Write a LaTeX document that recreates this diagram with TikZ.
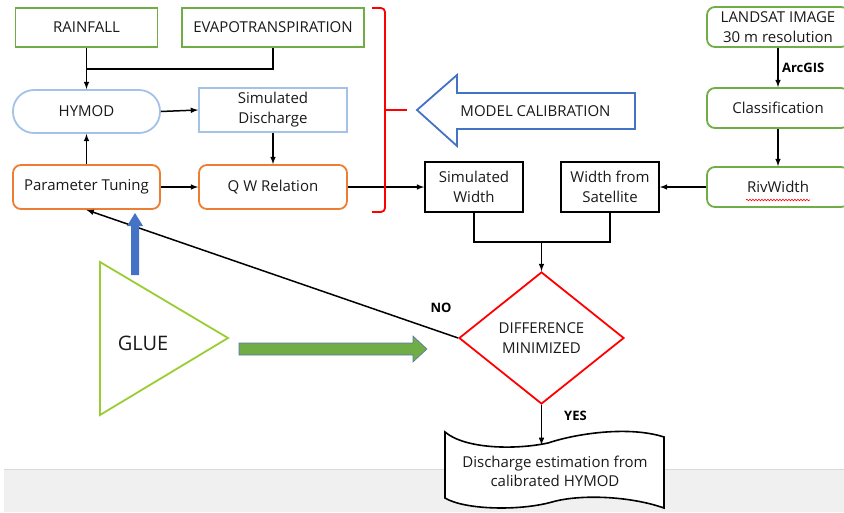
\documentclass[tikz,border=0pt]{standalone}
\usepackage{fontspec}
\setmainfont{Open Sans}
\usetikzlibrary{shapes.geometric,decorations.pathmorphing}
\definecolor{grn}{HTML}{70AD47}
\definecolor{ltblue}{HTML}{A4C2E8}
\definecolor{orng}{HTML}{ED7D31}
\definecolor{blu}{HTML}{4472C4}
\definecolor{lime}{HTML}{9ACD32}
\definecolor{txt}{HTML}{1A1A1A}
\definecolor{band}{HTML}{F0F0F0}
\tikzset{box/.style = {draw, fill=white, line width=1.8pt, rectangle, text=txt, align=center, inner sep=2pt, font=\fontsize{15}{20}\selectfont},
         greenbox/.style = {box, draw=grn, minimum height=39pt},
         sidebox/.style = {box, draw=grn, rounded corners=8pt, minimum width=142pt, minimum height=40pt},
         bluebox/.style = {box, draw=ltblue, minimum width=148pt, minimum height=44pt},
         tunebox/.style = {box, draw=orng, rounded corners=8pt, minimum height=44pt},
         widthbox/.style = {box, draw=black, minimum width=98pt, minimum height=50pt},
         decision/.style = {box, draw=red, diamond, aspect=1.25, minimum width=165pt, minimum height=132pt, inner sep=0pt},
         word/.style = {text=txt, align=center, font=\fontsize{15}{19.5}\selectfont},
         tag/.style = {text=black, font=\fontsize{13}{15}\selectfont\bfseries},
         link/.style = {line width=1.5pt, ->}}

\begin{document}
\begin{tikzpicture}[x=1pt,y=-1pt,>=latex]
    \clip(0,0)rectangle(844,512);
    \fill[band](4,469)rectangle(844,512);
    \draw[black!15,line width=1pt](4,469)--(844,469);

    \node[greenbox,minimum width=142pt](rain)at(86.5,27.5){RAINFALL};
    \node[greenbox,minimum width=182pt](evap)at(273,27.5){EVAPOTRANSPIRATION};
    \node[box,draw=ltblue,rounded corners=21pt,minimum width=147pt,minimum height=43pt](hymod)at(86.5,111.5){HYMOD};
    \node[bluebox](simq)at(273,110){Simulated\\Discharge};
    \node[tunebox,minimum width=147pt](param)at(86.5,187){Parameter Tuning};
    \node[tunebox,minimum width=148pt](qw)at(273,187){Q W Relation};
    \node[widthbox](simw)at(474,187){Simulated\\Width};
    \node[widthbox](satw)at(610,187){Width from\\Satellite};
    \node[sidebox](landsat)at(778,27){LANDSAT IMAGE\\30 m resolution};
    \node[sidebox](class)at(778,108){Classification};
    \node[sidebox](riv)at(778,187){RivWidth};
    \draw[red,line width=0.6pt,decorate,decoration={snake,amplitude=0.8pt,segment length=3pt}]([xshift=-32pt,yshift=-13pt]riv.center)--([xshift=32pt,yshift=-13pt]riv.center);
    \node[decision](diff)at(541.5,338){DIFFERENCE\\MINIMIZED};

    % inputs to HYMOD
    \coordinate(j1)at(86.5,69);
    \draw[line width=1.5pt](evap.south)|-(j1);
    \draw[link](rain.south)--(hymod.north);
    \draw[link](hymod.east)--(simq.west);
    \draw[link](simq.south)--(qw.north);
    \draw[link](param.north)--(hymod.south);
    \draw[link](param.east)--(qw.west);
    \draw[link](qw.east)--(simw.west);

    % satellite side
    \draw[link](landsat.south)--(class.north)node[midway,right,tag]{ArcGIS};
    \draw[link](class.south)--(riv.north);
    \draw[link](riv.west)--(satw.east);

    % comparison
    \coordinate(j2)at(541.5,242);
    \draw[line width=1.5pt](simw.south)|-(j2);
    \draw[line width=1.5pt](satw.south)|-(j2);
    \draw[link](j2)--(diff.north);
    \draw[link](diff.west)--(param.south);
    \node[tag](no)at(441,308){NO};
    \node[tag](yes)at(575.5,416){YES};

    % result
    \filldraw[fill=white,line width=1.6pt](445,432)..controls(465,449)and(515,450)..(548,443)
        ..controls(578,433)and(630,426)..(664,437)--(664,508)
        ..controls(630,496)and(580,494)..(552,502)..controls(520,511)and(465,510)..(445,498)--cycle;
    \node[word](doc)at(555,471.5){Discharge estimation from\\calibrated HYMOD};
    \coordinate(doctop)at(541.5,445);
    \draw[link](diff.south)--(doctop);

    % model calibration
    \draw[red,line width=1.8pt,rounded corners=4pt](372,8)-|(385,110)|-(372,212);
    \draw[red,line width=1.8pt](385,110)--(407,110);
    \draw[blu,line width=1.8pt,fill=white](417,110)--(457,75)--(457,93)--(635,93)--(635,129)--(457,129)--(457,146)--cycle;
    \node[word](calib)at(535.5,111){MODEL CALIBRATION};

    % GLUE
    \draw[lime,line width=1.8pt](100,262)--(228,338)--(100,415)--cycle;
    \node[word,font=\fontsize{20}{22}\selectfont](glue)at(143,343){GLUE};
    \fill[blu](131,275)--(131,226)--(127,226)--(135,213)--(143,226)--(139,226)--(139,275)--cycle;
    \filldraw[fill=grn,draw=blu!60!gray,line width=0.6pt](239,343)--(413,343)--(413,336)--(427,349)--(413,362)--(413,355)--(239,355)--cycle;
\end{tikzpicture}
\end{document}
